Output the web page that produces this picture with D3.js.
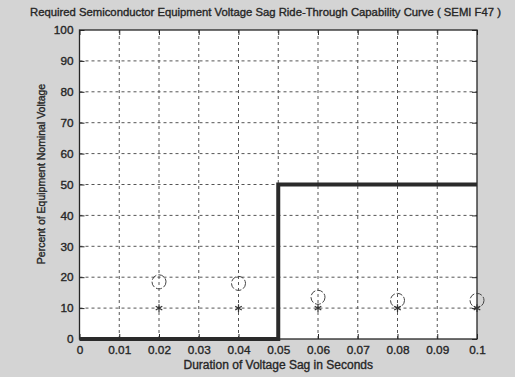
<!DOCTYPE html>
<html>
<head>
<meta charset="utf-8">
<script src="https://cdn.jsdelivr.net/npm/d3@7/dist/d3.min.js"></script>
<style>
  html, body { margin: 0; padding: 0; background: #d4d4d4; overflow: hidden; }
  svg { display: block; font-family: "Liberation Sans", Arial, sans-serif; }
</style>
</head>
<body>
<svg id="chart" width="515" height="377"></svg>
<script>
// SEMI F47 ride-through requirement curve
const curveDuration = [0, 0.05, 0.05, 0.1];
const curvePercent = [0, 0, 50, 50];

// Measured sag points (circles) and test points (stars)
const sagDuration = [0.02, 0.04, 0.06, 0.08, 0.1];
const sagPercent = [18.5, 18, 13.5, 12.5, 12.5];
const testDuration = [0.02, 0.04, 0.06, 0.08, 0.1];
const testPercent = [10, 10, 10, 10, 10];

const xTicks = [0, 0.01, 0.02, 0.03, 0.04, 0.05, 0.06, 0.07, 0.08, 0.09, 0.1];
const xTickLabels = ["0", "0.01", "0.02", "0.03", "0.04", "0.05", "0.06", "0.07", "0.08", "0.09", "0.1"];
const yTicks = [0, 10, 20, 30, 40, 50, 60, 70, 80, 90, 100];

const titleText = "Required Semiconductor Equipment Voltage Sag Ride-Through Capability Curve ( SEMI F47 )";
const xTitle = "Duration of Voltage Sag in Seconds";
const yTitle = "Percent of Equipment Nominal Voltage";

const svg = d3.select("#chart");
const W = 515, H = 377;
const m = { left: 79.5, right: 477, top: 30, bottom: 339 };
const ink = "#262626";

const x = d3.scaleLinear().domain([0, 0.1]).range([m.left, m.right]);
const y = d3.scaleLinear().domain([0, 100]).range([m.bottom, m.top]);

svg.append("rect").attr("width", W).attr("height", H).attr("fill", "#d4d4d4");

// plot area
svg.append("rect")
  .attr("x", m.left).attr("y", m.top)
  .attr("width", m.right - m.left).attr("height", m.bottom - m.top)
  .attr("fill", "#ffffff");

// dashed grid
const grid = svg.append("g").attr("stroke", "#555").attr("stroke-width", 1).attr("stroke-dasharray", "3,3");
grid.selectAll("line.v").data(xTicks.slice(1, -1)).join("line")
  .attr("x1", d => x(d)).attr("x2", d => x(d))
  .attr("y1", m.top).attr("y2", m.bottom);
grid.selectAll("line.h").data(yTicks.slice(1, -1)).join("line")
  .attr("x1", m.left).attr("x2", m.right)
  .attr("y1", d => y(d)).attr("y2", d => y(d));

// axes with inward ticks
const xAxis = d3.axisBottom(x).tickValues(xTicks).tickSize(-5).tickPadding(7)
  .tickFormat((d, i) => xTickLabels[i]);
const gx = svg.append("g").attr("transform", `translate(0,${m.bottom})`).call(xAxis);
const gxTop = svg.append("g").attr("transform", `translate(0,${m.top})`)
  .call(d3.axisTop(x).tickValues(xTicks).tickSize(-5).tickFormat(""));
const yAxis = d3.axisLeft(y).tickValues(yTicks).tickSize(-5).tickPadding(6);
const gy = svg.append("g").attr("transform", `translate(${m.left},0)`).call(yAxis);
const gyR = svg.append("g").attr("transform", `translate(${m.right},0)`)
  .call(d3.axisRight(y).tickValues(yTicks).tickSize(-5).tickFormat(""));

[gx, gxTop, gy, gyR].forEach(g => {
  g.select(".domain").remove();
  g.selectAll(".tick line").attr("stroke", ink);
  g.selectAll("text").attr("fill", ink).attr("stroke", ink).attr("stroke-width", 0.35)
    .attr("font-size", 11.8).attr("font-family", "Liberation Sans, Arial, sans-serif");
});

// frame
svg.append("rect")
  .attr("x", m.left).attr("y", m.top)
  .attr("width", m.right - m.left).attr("height", m.bottom - m.top)
  .attr("fill", "none").attr("stroke", ink).attr("stroke-width", 1.3);

// requirement curve
const line = d3.line().x(d => x(d[0])).y(d => y(d[1])).curve(d3.curveLinear);
svg.append("path")
  .datum(curveDuration.map((d, i) => [d, curvePercent[i]]))
  .attr("d", line)
  .attr("fill", "none").attr("stroke", "#2a2a2a").attr("stroke-width", 4)
  .attr("stroke-linejoin", "miter");

// measured points: circles
svg.append("g").selectAll("circle")
  .data(sagDuration.map((d, i) => [d, sagPercent[i]]))
  .join("circle")
  .attr("cx", d => x(d[0])).attr("cy", d => y(d[1])).attr("r", 7)
  .attr("fill", "none").attr("stroke", "#444").attr("stroke-width", 1)
  .attr("stroke-dasharray", "6,2");

// test points: asterisks
const star = d3.symbol().type(d3.symbolAsterisk || d3.symbolCross).size(40);
svg.append("g").selectAll("path")
  .data(testDuration.map((d, i) => [d, testPercent[i]]))
  .join("path")
  .attr("transform", d => `translate(${x(d[0])},${y(d[1])})`)
  .attr("d", star)
  .attr("fill", "none").attr("stroke", "#333").attr("stroke-width", 1.2);

// titles
const textStyle = sel => sel.attr("fill", ink).attr("stroke", ink).attr("stroke-width", 0.35);

svg.append("text")
  .attr("x", 30).attr("y", 16)
  .attr("font-size", 11.3)
  .call(textStyle)
  .text(titleText);

svg.append("text")
  .attr("x", (m.left + m.right) / 2).attr("y", 369)
  .attr("text-anchor", "middle").attr("font-size", 12)
  .call(textStyle)
  .text(xTitle);

svg.append("text")
  .attr("transform", `translate(45,174) rotate(-90)`)
  .attr("text-anchor", "middle").attr("font-size", 10.5)
  .call(textStyle)
  .text(yTitle);
</script>
</body>
</html>
